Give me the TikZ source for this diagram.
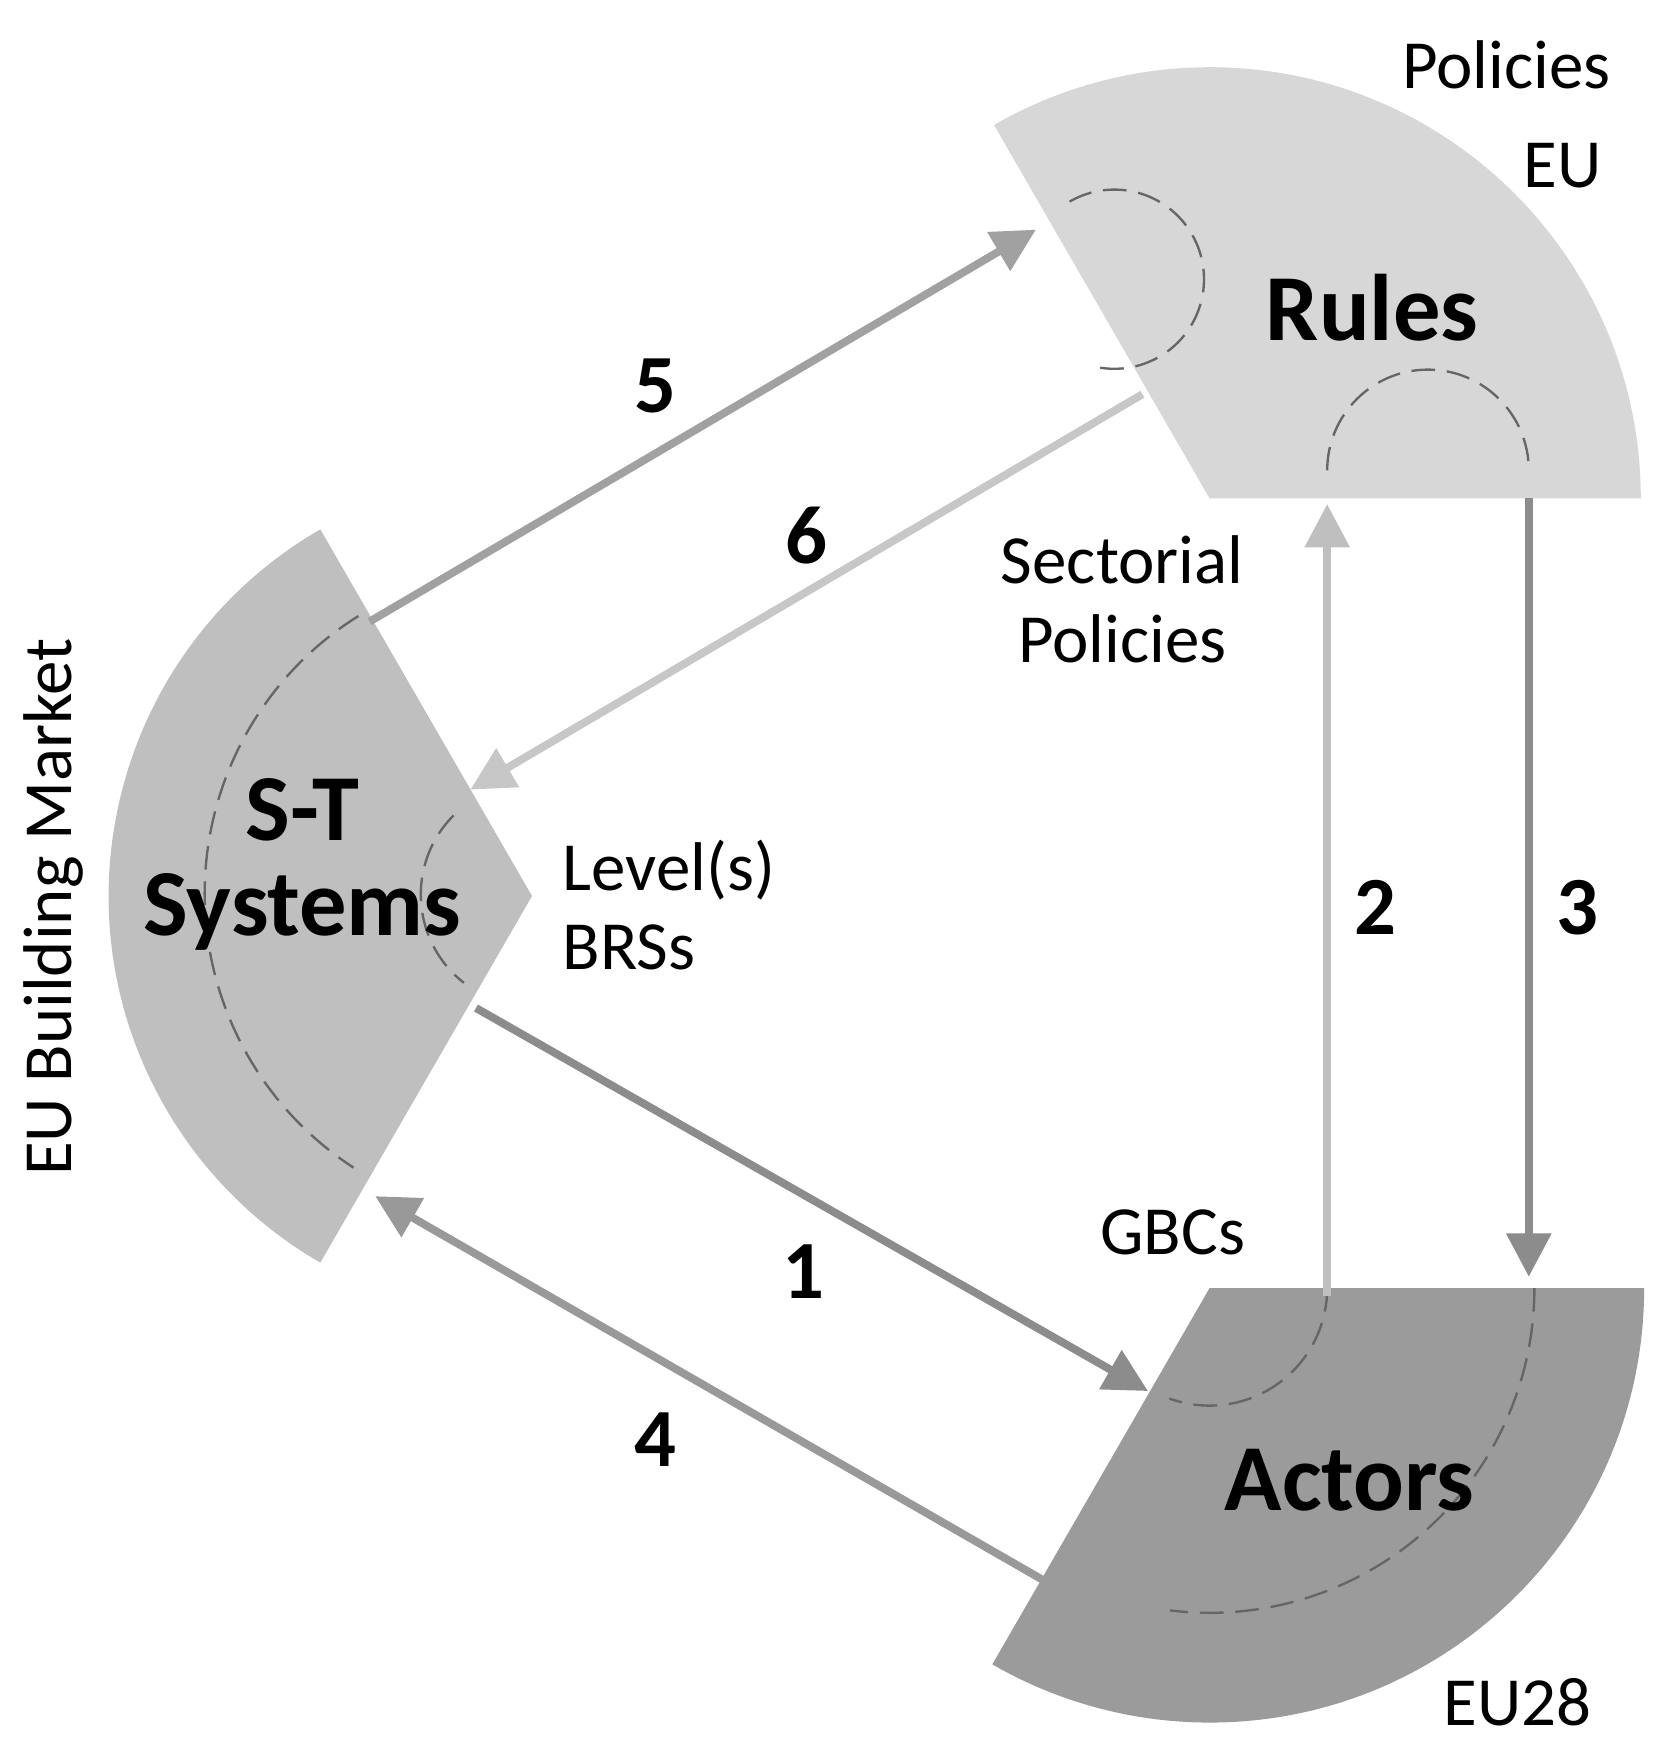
\documentclass[tikz,border=0pt]{standalone}
\usepackage{fontspec}
\setmainfont{Carlito}
\usetikzlibrary{arrows.meta}
\definecolor{cR}{HTML}{D8D7D8}
\definecolor{cS}{HTML}{BFBFBF}
\definecolor{cA}{HTML}{9B9B9B}
\begin{document}
\begin{tikzpicture}[x=0.01cm,y=-0.01cm,
  lab/.style={font=\fontsize{17.5}{20}\selectfont},
  big/.style={font=\fontsize{24}{24}\selectfont\bfseries},
  num/.style={font=\fontsize{21}{24}\selectfont\bfseries},
  arr/.style={line width=2pt,-{Triangle[length=11pt,width=11pt]}},
  dsh/.style={dashed,draw=gray!80!black,line width=0.6pt,dash pattern=on 6pt off 3pt}]
\useasboundingbox (0,0) rectangle (1500,1575);
% sectors
\fill[cR] (1080,445) -- ++(0:385) arc[start angle=0,end angle=-120,radius=385] -- cycle;
\fill[cS] (475,800) -- ++(-120:378) arc[start angle=-120,end angle=-240,radius=378] -- cycle;
\fill[cA] (1080,1150) -- ++(0:388) arc[start angle=0,end angle=120,radius=388] -- cycle;
% dashed arcs
\draw[dsh] (955,180) arc[start angle=-120,end angle=100,radius=80];
\draw[dsh] (1185,420) arc[start angle=180,end angle=360,radius=90];
\draw[dsh] (320,550) arc[start angle=-122,end angle=-237,radius=292];
\draw[dsh] (405,728) arc[start angle=-135,end angle=-232,radius=100];
\draw[dsh] (1185,1150) arc[start angle=0,end angle=110,radius=105];
\draw[dsh] (1370,1150) arc[start angle=0,end angle=97,radius=290];
% coordinates
\coordinate (a5s) at (330,555); \coordinate (a5e) at (925,205);
\coordinate (a6s) at (1020,352); \coordinate (a6e) at (420,705);
\coordinate (a2s) at (1185,1157); \coordinate (a2e) at (1185,450);
\coordinate (a3s) at (1365,445); \coordinate (a3e) at (1365,1140);
\coordinate (a1s) at (425,900); \coordinate (a1e) at (1025,1242);
\coordinate (a4s) at (930,1410); \coordinate (a4e) at (335,1068);
\draw[arr,draw=black!37,color=black!37] (a5s) -- (a5e);
\draw[arr,draw=black!22,color=black!22] (a6s) -- (a6e);
\draw[arr,draw=black!32,color=black!25] (a2s) -- (a2e);
\draw[arr,draw=black!28,color=black!45] (a3s) -- (a3e);
\draw[arr,draw=black!42,color=black!45] (a1s) -- (a1e);
\draw[arr,draw=black!40,color=black!40] (a4s) -- (a4e);
% labels
\node[lab] (pol) at (1345,58) {Policies};
\node[lab] (eu) at (1395,148) {EU};
\node[big] (rules) at (1225,275) {Rules};
\node[lab,align=center] (sec) at (1002,535) {Sectorial\\Policies};
\node[lab,align=left,anchor=west] (lev) at (490,808) {Level(s)\\BRSs};
\node[big,align=center] (st) at (270,772) {S-T\\Systems};
\node[lab,rotate=90] (mkt) at (48,810) {EU Building Market};
\node[lab] (gbc) at (1047,1100) {GBCs};
\node[big] (act) at (1205,1322) {Actors};
\node[lab] (eu28) at (1355,1520) {EU28};
\node[num] (n5) at (585,345) {5};
\node[num] (n6) at (720,478) {6};
\node[num] (n2) at (1228,810) {2};
\node[num] (n3) at (1408,810) {3};
\node[num] (n1) at (717,1135) {1};
\node[num] (n4) at (585,1285) {4};
\end{tikzpicture}
\end{document}
